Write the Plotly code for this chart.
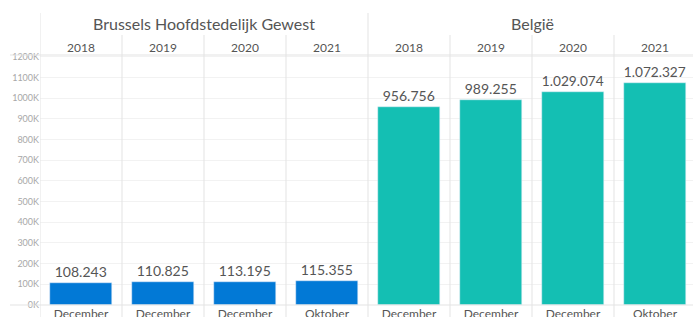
import plotly.graph_objects as go

# ---- data ----
groups = ["Brussels Hoofdstedelijk Gewest", "België"]
years = ["2018", "2019", "2020", "2021"]
months = ["December", "December", "December", "Oktober"]
brussels = [108243, 110825, 113195, 115355]
belgie = [956756, 989255, 1029074, 1072327]
ytick_vals = [0, 100000, 200000, 300000, 400000, 500000, 600000,
              700000, 800000, 900000, 1000000, 1100000, 1200000]
ytick_text = ["0K", "100K", "200K", "300K", "400K", "500K", "600K",
              "700K", "800K", "900K", "1000K", "1100K", "1200K"]

BLUE = "#0279d6"
TEAL = "#14bfb3"
TXT = "#555555"
FONT = "Lato"

W, H = 693, 317
L, R, T, B = 40, 0, 55, 12
x_brus = [0, 1, 2, 3]
x_bel = [4, 5, 6, 7]
xr = [-0.5, 7.5 - 3 / 82]

fig = go.Figure()
fig.add_trace(go.Bar(x=x_brus, y=brussels, marker_color=BLUE, width=0.76,
                     texttemplate="%{y:,}", textposition="outside",
                     textfont=dict(size=14, color=TXT, family=FONT),
                     cliponaxis=False, showlegend=False))
fig.add_trace(go.Bar(x=x_bel, y=belgie, marker_color=TEAL, width=0.76,
                     texttemplate="%{y:,}", textposition="outside",
                     textfont=dict(size=14, color=TXT, family=FONT),
                     cliponaxis=False, showlegend=False))
# dummy trace to activate top axis
fig.add_trace(go.Scatter(x=[0], y=[0], xaxis="x2", mode="markers",
                         marker=dict(opacity=0), showlegend=False, hoverinfo="skip"))

fig.update_layout(
    width=W, height=H,
    margin=dict(l=L, r=R, t=T, b=B, autoexpand=False),
    paper_bgcolor="white", plot_bgcolor="white",
    separators=",.",
    font=dict(family=FONT, color=TXT),
    xaxis=dict(range=xr, tickmode="array", tickvals=x_brus + x_bel,
               ticktext=months + months, showgrid=False, zeroline=False,
               showline=False, ticks="", automargin=False,
               tickfont=dict(size=12, color=TXT)),
    xaxis2=dict(range=xr, overlaying="x", side="top", tickmode="array",
                tickvals=x_brus + x_bel, ticktext=years + years,
                showgrid=False, zeroline=False, showline=False, ticks="",
                automargin=False, tickfont=dict(size=12, color=TXT)),
    yaxis=dict(range=[0, 1208000], tickmode="array", tickvals=ytick_vals,
               ticktext=ytick_text, showgrid=True, gridcolor="#f2f2f2",
               zeroline=False, showline=False, ticks="", automargin=False,
               tickfont=dict(size=9, color="#a8a8a8")),
    bargap=0,
)

line_c = "#e3e3e3"
ph = H - T - B
shapes = []
# vertical dividers
shapes.append(dict(type="line", xref="x", yref="paper", x0=-0.5, x1=-0.5,
                   y0=-B / ph, y1=(H - B - 13) / ph, line=dict(color=line_c, width=1)))
shapes.append(dict(type="line", xref="x", yref="paper", x0=3.5, x1=3.5,
                   y0=-B / ph, y1=(H - B - 13) / ph, line=dict(color=line_c, width=1)))
for xv in [0.5, 1.5, 2.5, 4.5, 5.5, 6.5]:
    shapes.append(dict(type="line", xref="x", yref="paper", x0=xv, x1=xv,
                       y0=-B / ph, y1=(H - B - 35) / ph,
                       line=dict(color=line_c, width=1)))
# horizontal lines
pw = W - L - R
for yv in [0, 1]:
    shapes.append(dict(type="line", xref="paper", yref="paper", x0=-30 / pw, x1=1,
                       y0=yv, y1=yv, line=dict(color=line_c, width=1)))
fig.update_layout(shapes=shapes)

# group headers
for gx, gname in zip([1.5, 5.5], groups):
    fig.add_annotation(x=gx, y=(H - B - 24) / ph, xref="x", yref="paper",
                       text=gname, showarrow=False,
                       font=dict(size=16, color=TXT, family=FONT),
                       yanchor="middle")

fig.write_html("out.html", config={"displayModeBar": False},
               post_script="document.body.style.margin='0';document.body.style.overflow='hidden';")
